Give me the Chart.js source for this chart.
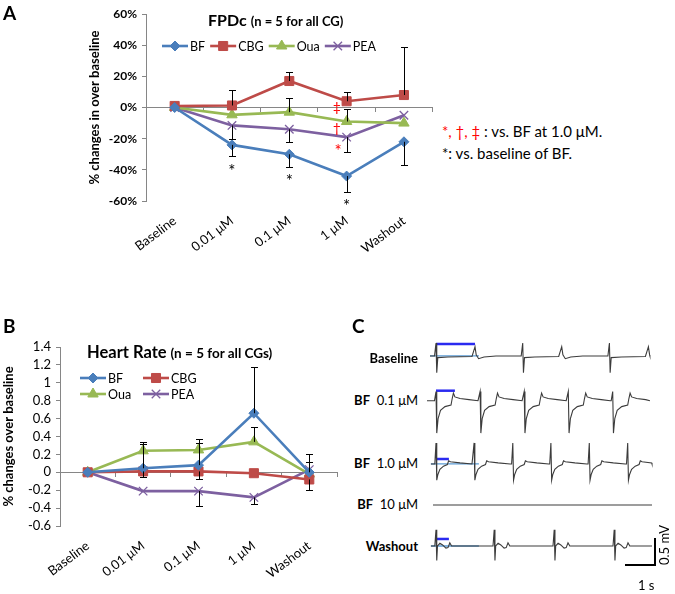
<!DOCTYPE html>
<html>
<head>
<meta charset="utf-8">
<script src="https://cdn.jsdelivr.net/npm/chart.js@4.4.0/dist/chart.umd.min.js"></script>
<style>
body{margin:0;background:#fff;font-family:Lato,sans-serif;}
#wrap{position:relative;width:675px;height:594px;overflow:hidden;background:#fff;}
canvas{position:absolute;}
.t{position:absolute;white-space:nowrap;color:#000;line-height:1;}
.b{font-weight:bold;}
.red{color:#ff0000;}
</style>
</head>
<body>
<div id="wrap">
<canvas id="chartA" width="440" height="290" style="left:0;top:0"></canvas>
<canvas id="chartB" width="345" height="264" style="left:0;top:330px"></canvas>
<canvas id="chartC" width="250" height="264" style="left:425px;top:330px"></canvas>

<div class="t b" style="left:3px;top:3px;font-size:19px">A</div>
<div class="t b" style="left:3px;top:316px;font-size:19px">B</div>
<div class="t b" style="left:352px;top:316px;font-size:19px">C</div>

<div class="t b" style="left:208px;top:12px"><span style="font-size:16px">FPDc</span> <span style="font-size:13px">(n = 5 for all CG)</span></div>
<div class="t b" style="left:87px;top:344px"><span style="font-size:16.5px">Heart Rate</span> <span style="font-size:13.5px">(n = 5 for all CGs)</span></div>

<div class="t" style="left:442px;top:124px;font-size:15px"><span class="red">*, †, ‡</span> : vs. BF at 1.0 μM.</div>
<div class="t" style="left:442px;top:146px;font-size:15px">*: vs. baseline of BF.</div>

<div class="t b" style="right:257px;top:352px;font-size:13px">Baseline</div>
<div class="t" style="right:257px;top:394px;font-size:13px"><b>BF</b>&nbsp; 0.1 μM</div>
<div class="t" style="right:257px;top:457px;font-size:13px"><b>BF</b>&nbsp; 1.0 μM</div>
<div class="t" style="right:257px;top:498px;font-size:13px"><b>BF</b>&nbsp; 10 μM</div>
<div class="t b" style="right:257px;top:540px;font-size:13px">Washout</div>
<div class="t" style="left:638px;top:579px;font-size:13px">1 s</div>
<div class="t" style="left:658px;top:565px;font-size:13px;transform:rotate(-90deg);transform-origin:0 0">0.5 mV</div>
</div>

<script>
const categories = ['Baseline', '0.01 μM', '0.1 μM', '1 μM', 'Washout'];
const seriesNames = ['BF', 'CBG', 'Oua', 'PEA'];

// A: FPDc, % changes over baseline
const fpdBF  = [0, -24, -30, -44, -22];
const fpdCBG = [1, 1.3, 17, 4, 8];
const fpdOua = [0, -4.7, -3, -9, -10];
const fpdPEA = [0, -11.5, -14, -19, -5];
const fpdBFLow   = [0, 7, 8, 10, 15];
const fpdCBGHigh = [0, 10, 6, 6, 31];
const fpdOuaHigh = [0, 0, 9, 8, 0];
const fpdPEALow  = [0, 9, 8, 9.5, 0];

// B: heart rate, changes over baseline
const hrBF  = [0, 0.045, 0.08, 0.66, 0];
const hrCBG = [0, 0.01, 0.01, -0.01, -0.08];
const hrOua = [0, 0.24, 0.25, 0.34, -0.02];
const hrPEA = [0, -0.21, -0.21, -0.28, 0.03];
const hrBFHigh  = [0, 0.27, 0.25, 0.52, 0.12];
const hrCBGLow  = [0, 0.06, 0.09, 0, 0.12];
const hrOuaHigh = [0, 0.1, 0.12, 0.17, 0];
const hrPEALow  = [0, 0, 0.17, 0.075, 0];
const hrPEAHigh = [0, 0, 0, 0, 0.17];

// A: significance marks (category index, value)
const fpdMarks = [
  ['*', 1, -39, '#000'], ['*', 2, -45.5, '#000'], ['*', 3, -61.5, '#000'],
  ['‡', 2.83, 0, '#ff0000'], ['†', 2.83, -13.5, '#ff0000'], ['*', 2.85, -26, '#ff0000']
];

// C: field potential traces, time in s, voltage in mV
const traceNames = ['Baseline', 'BF 0.1 μM', 'BF 1.0 μM', 'BF 10 μM', 'Washout'];
const beatsBaseline = [0, 2.89, 5.78];
const beatsBF01 = [0, 1.47, 2.94, 4.41, 5.89];
const beatsBF1 = [0, 1.27, 2.56, 3.83, 5.11, 6.39];
const beatsBF10 = [];
const beatsWash = [0, 1.94, 3.94, 5.94];
const shapeBaseline = [[-0.05,0],[0,0.24],[0.025,-0.31],[0.06,-0.03],[0.4,-0.02],[1.2,-0.01],[1.26,0.1],[1.3,0.17],[1.34,0.02],[1.42,-0.05],[1.6,-0.02],[2.0,0]];
const shapeBF01 = [[-0.05,0],[0,0.17],[0.025,-0.6],[0.07,-0.33],[0.15,-0.18],[0.3,-0.11],[0.5,-0.08],[0.54,0.04],[0.58,0.14],[0.63,0.07],[0.8,0.04],[1.1,0.02],[1.4,0]];
const shapeBF1 = [[-0.04,0],[0,0.39],[0.025,-0.3],[0.06,-0.2],[0.13,-0.1],[0.25,-0.04],[0.38,-0.01],[0.42,0.06],[0.48,0.04],[0.8,0.02],[1.2,0]];
const shapeWash = [[-0.04,0],[0,0.3],[0.025,-0.27],[0.05,0],[0.13,0.05],[0.22,0.02],[0.33,-0.04],[0.4,-0.03],[0.46,0.06],[0.52,0],[0.7,0]];
const fpdBarEnd = [1.3, 0.63, 0.43, null, 0.43];   // blue FPD markers, s
const scaleBarTime = 1;    // s
const scaleBarVolt = 0.5;  // mV

// layout of panel C (trace baselines in mV, time window)
const traceOffset = [-0.481, -1.309, -2.481, -3.241, -4.0];
const traceStart = [-0.2, -0.3, -0.17, -0.1, -0.17];
const traceEnd = [7.13, 7.13, 7.2, 7.2, 7.2];
const fpdBarLift = [0.222, 0.185, 0.092, 0, 0.13];

const colors = {BF: '#4a7ebb', CBG: '#be4b48', Oua: '#98b954', PEA: '#7d60a0'};
const markers = {BF: ['rectRot', 5], CBG: ['rect', 6.4], Oua: ['triangle', 6], PEA: ['crossRot', 6]};

function makeSet(name, values, high, low) {
  const c = colors[name];
  return {
    label: name, data: values, errHigh: high, errLow: low,
    borderColor: c, backgroundColor: c, borderWidth: 2.6,
    pointStyle: markers[name][0], pointRadius: markers[name][1],
    pointBackgroundColor: c, pointBorderColor: c, pointBorderWidth: name === 'PEA' ? 1.3 : 1,
    tension: 0
  };
}

const errorBars = {
  id: 'errorBars',
  afterDatasetsDraw(chart) {
    const ctx = chart.ctx, y = chart.scales.y;
    ctx.save();
    ctx.strokeStyle = '#000';
    ctx.lineWidth = 1;
    chart.data.datasets.forEach((ds, i) => {
      const meta = chart.getDatasetMeta(i);
      meta.data.forEach((pt, j) => {
        const v = ds.data[j];
        [[ds.errHigh, 1], [ds.errLow, -1]].forEach(([arr, s]) => {
          if (!arr || !arr[j]) return;
          const ye = Math.round(y.getPixelForValue(v + s * arr[j])) + 0.5;
          const x = Math.round(pt.x) + 0.5;
          ctx.beginPath();
          ctx.moveTo(x, pt.y); ctx.lineTo(x, ye);
          ctx.moveTo(x - 3.5, ye); ctx.lineTo(x + 3.5, ye);
          ctx.stroke();
        });
      });
    });
    ctx.restore();
  }
};

const lineLegend = {
  id: 'lineLegend',
  afterDraw(chart, args, opts) {
    const ctx = chart.ctx;
    ctx.save();
    ctx.font = opts.font;
    ctx.textBaseline = 'middle';
    let x = opts.x;
    chart.data.datasets.forEach((ds, i) => {
      let px = x, py = opts.y;
      if (opts.cols) { px = opts.cols[i % 2]; py = opts.rows[Math.floor(i / 2)]; }
      ctx.strokeStyle = ds.borderColor;
      ctx.lineWidth = ds.borderWidth;
      ctx.beginPath(); ctx.moveTo(px, py); ctx.lineTo(px + 26, py); ctx.stroke();
      ctx.fillStyle = ds.pointBackgroundColor;
      ctx.lineWidth = ds.pointBorderWidth;
      Chart.helpers.drawPoint(ctx, {pointStyle: ds.pointStyle, radius: ds.pointRadius, rotation: 0, borderWidth: ds.pointBorderWidth}, px + 13, py);
      ctx.fillStyle = '#000';
      ctx.fillText(ds.label, px + 28, py + 1);
      x = px + 28 + ctx.measureText(ds.label).width + 5;
    });
    ctx.restore();
  }
};

const marks = {
  id: 'marks',
  afterDraw(chart, args, opts) {
    if (!opts.items) return;
    const ctx = chart.ctx;
    ctx.save();
    ctx.textAlign = 'center';
    ctx.textBaseline = 'middle';
    opts.items.forEach(([txt, cat, val, col]) => {
      ctx.font = txt === '*' ? '17px Lato' : '14px Lato';
      ctx.fillStyle = col;
      const x = chart.scales.x.getPixelForValue(cat);
      const y = chart.scales.y.getPixelForValue(val) + (txt === '*' ? 3 : 0);
      ctx.fillText(txt, x, y);
    });
    ctx.restore();
  }
};

function chartOptions(cfg) {
  return {
    responsive: false,
    animation: false,
    layout: {padding: cfg.padding},
    plugins: {
      legend: {display: false},
      tooltip: {enabled: false},
      lineLegend: cfg.legend,
      marks: {items: cfg.marks}
    },
    scales: {
      x: {
        offset: true,
        grid: {display: false},
        border: {display: false},
        ticks: {minRotation: 37, maxRotation: 37, autoSkip: false, color: '#000', padding: 4,
                font: {family: 'Lato', size: 13}},
        afterFit: s => { s.height = cfg.xHeight; }
      },
      x2: {
        axis: 'x', type: 'category', labels: categories, offset: true,
        position: {y: 0},
        grid: {drawOnChartArea: false, offset: true, tickLength: 4, color: '#868686'},
        border: {color: '#868686'},
        ticks: {display: false}
      },
      y: {
        min: cfg.min, max: cfg.max,
        ticks: {stepSize: cfg.step, autoSkip: false, callback: cfg.fmt, color: '#000', padding: 5,
                font: {family: 'Lato', size: cfg.tickSize, weight: cfg.tickWeight}},
        grid: {drawOnChartArea: false, tickLength: 4, color: '#868686'},
        border: {color: '#868686'},
        title: {display: true, text: cfg.title, color: '#000', padding: {top: cfg.titlePad, bottom: 0},
                font: {family: 'Lato', size: 13, weight: 'bold'}},
        afterFit: s => { s.width = cfg.yWidth; }
      }
    }
  };
}

new Chart(document.getElementById('chartA'), {
  type: 'line',
  data: {
    labels: categories,
    datasets: [
      makeSet('BF', fpdBF, null, fpdBFLow),
      makeSet('CBG', fpdCBG, fpdCBGHigh, null),
      makeSet('Oua', fpdOua, fpdOuaHigh, null),
      makeSet('PEA', fpdPEA, null, fpdPEALow)
    ]
  },
  options: chartOptions({
    padding: {left: 84, top: 14, right: 7, bottom: 0},
    xHeight: 89, yWidth: 62, titlePad: 3,
    min: -60, max: 60, step: 20, fmt: v => v + '%', tickSize: 12, tickWeight: 'bold',
    title: '% changes in over baseline',
    legend: {x: 162, y: 46, font: '12.5px Lato'},
    marks: fpdMarks
  }),
  plugins: [errorBars, lineLegend, marks]
});

new Chart(document.getElementById('chartB'), {
  type: 'line',
  data: {
    labels: categories,
    datasets: [
      makeSet('BF', hrBF, hrBFHigh, null),
      makeSet('CBG', hrCBG, null, hrCBGLow),
      makeSet('Oua', hrOua, hrOuaHigh, null),
      makeSet('PEA', hrPEA, hrPEAHigh, hrPEALow)
    ]
  },
  options: chartOptions({
    padding: {left: 0, top: 17, right: 8, bottom: 0},
    xHeight: 68, yWidth: 60, titlePad: 1,
    min: -0.6, max: 1.4, step: 0.2, fmt: v => String(Math.round(v * 10) / 10), tickSize: 13, tickWeight: 'normal',
    title: '% changes over baseline',
    legend: {cols: [80, 143], rows: [48, 64], font: '12.5px Lato'},
    marks: null
  }),
  plugins: [errorBars, lineLegend, marks]
});

// panel C traces
function buildTrace(k, beats, shape) {
  const off = traceOffset[k];
  const pts = [{x: traceStart[k], y: off}];
  beats.forEach(b => shape.forEach(([t, v]) => {
    if (b + t > pts[pts.length - 1].x && b + t <= traceEnd[k]) pts.push({x: b + t, y: off + v});
  }));
  pts.push({x: traceEnd[k], y: off});
  return pts;
}
const allBeats = [beatsBaseline, beatsBF01, beatsBF1, beatsBF10, beatsWash];
const allShapes = [shapeBaseline, shapeBF01, shapeBF1, [], shapeWash];

const cSets = [];
traceNames.forEach((name, k) => {
  cSets.push({label: name, data: buildTrace(k, allBeats[k], allShapes[k]),
    borderColor: '#3c3c3c', borderWidth: 1.1, pointRadius: 0, showLine: true});
});
// light blue reference lines and blue FPD markers
[0, 2, 4].forEach(k => {
  cSets.push({label: 'ref', data: [{x: traceStart[k], y: traceOffset[k]}, {x: 1.43, y: traceOffset[k]}],
    borderColor: '#5b9bd5', borderWidth: 1.3, pointRadius: 0, showLine: true});
});
fpdBarEnd.forEach((e, k) => {
  if (e === null) return;
  const v = traceOffset[k] + fpdBarLift[k];
  cSets.push({label: 'fpd', data: [{x: 0, y: v}, {x: e, y: v}],
    borderColor: '#2a2af0', borderWidth: 2.5, pointRadius: 0, showLine: true});
});
// scale bar
cSets.push({label: 'scale', data: [{x: 7.3 - scaleBarTime, y: -4.352}, {x: 7.3, y: -4.352}, {x: 7.3, y: -4.352 + scaleBarVolt}],
  borderColor: '#000', borderWidth: 2, pointRadius: 0, showLine: true});

new Chart(document.getElementById('chartC'), {
  type: 'scatter',
  data: {datasets: cSets},
  options: {
    responsive: false, animation: false,
    layout: {padding: 0},
    plugins: {legend: {display: false}, tooltip: {enabled: false}},
    scales: {
      x: {type: 'linear', display: false, min: -0.3667, max: 7.9667},
      y: {type: 'linear', display: false, min: -4.889, max: 0}
    }
  }
});
</script>
</body>
</html>
